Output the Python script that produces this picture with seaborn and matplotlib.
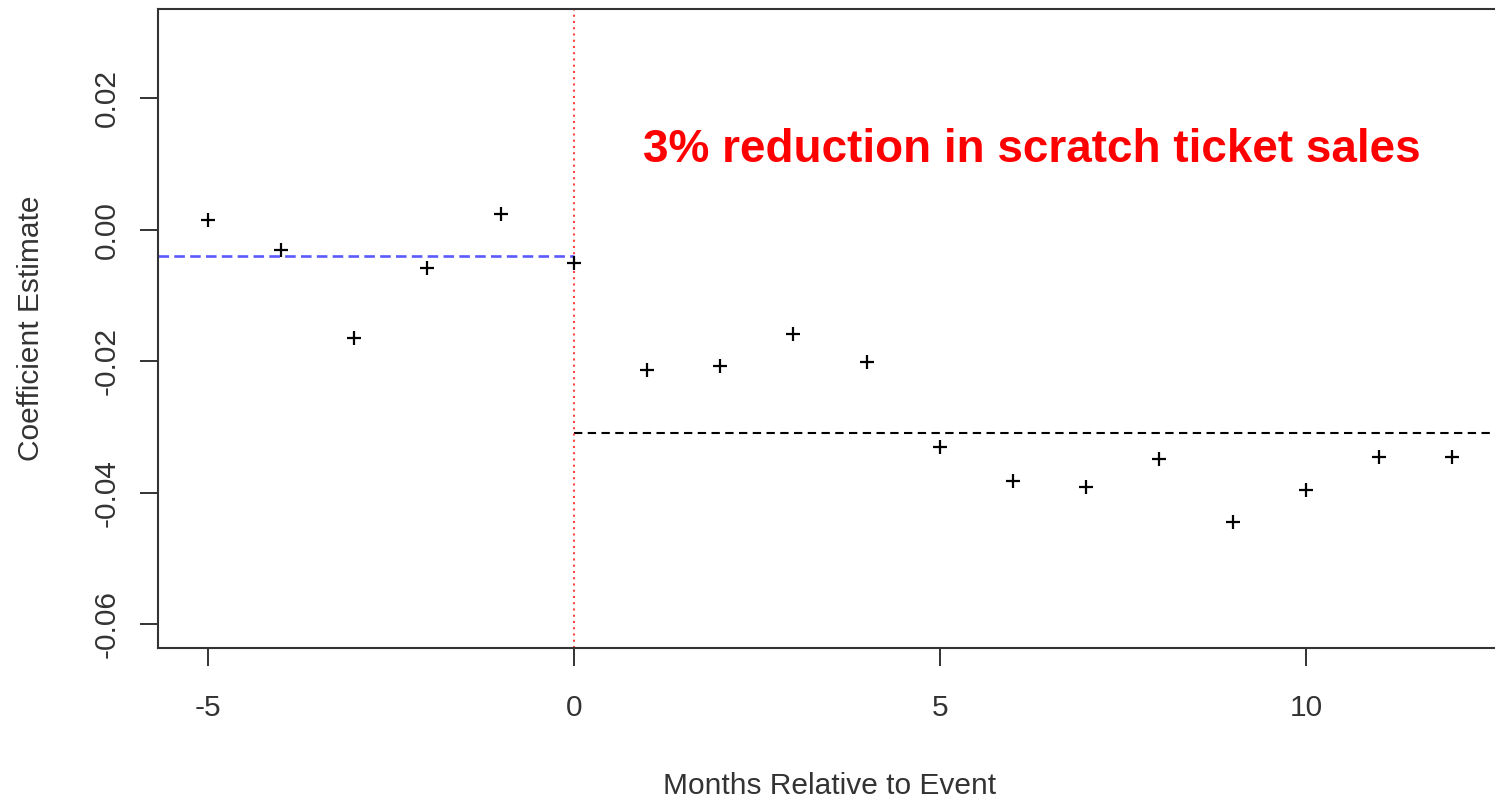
import numpy as np
import pandas as pd
import matplotlib
matplotlib.use("Agg")
import matplotlib.pyplot as plt
import seaborn as sns

# Data
months = [-5, -4, -3, -2, -1, 0, 1, 2, 3, 4, 5, 6, 7, 8, 9, 10, 11, 12]
coef = [0.0015, -0.0030, -0.0164, -0.0058, 0.0024, -0.0050,
        -0.0213, -0.0207, -0.0158, -0.0201, -0.0330, -0.0382,
        -0.0391, -0.0348, -0.0444, -0.0395, -0.0345, -0.0345]
pre_mean = -0.0040
post_mean = -0.0309
x_ticks = [-5, 0, 5, 10]
y_ticks = [-0.06, -0.04, -0.02, 0.00, 0.02]
y_tick_labels = ["-0.06", "-0.04", "-0.02", "0.00", "0.02"]

df = pd.DataFrame({"month": months, "coef": coef})

sns.set_style("white")
plt.rcParams['font.family'] = ['Liberation Sans', 'DejaVu Sans']

fig = plt.figure(figsize=(14.95, 7.97), dpi=100)
ax = fig.add_axes([158 / 1495, 149 / 797, (1502 - 158) / 1495, (648 - 9) / 797])

sns.scatterplot(data=df, x="month", y="coef", marker="+", s=110,
                color="black", linewidth=1.6, ax=ax, zorder=3)

xmin, xmax = -5.68, 12.68
ax.set_xlim(xmin, xmax)
ax.set_ylim(-0.0636, 0.0336)

# Pre-period mean (blue) and post-period mean (black)
ax.hlines(pre_mean, xmin, 0, colors="#5a5aff", linestyles=(0, (4, 2)), linewidth=1.9)
ax.hlines(post_mean, 0, xmax, colors="black", linestyles=(0, (4, 2.6)), linewidth=1.5)
ax.axvline(0, color="#ff4444", linestyle=(0, (1, 2)), linewidth=1.5)

ax.set_xticks(x_ticks)
ax.set_xticklabels([str(v) for v in x_ticks])
ax.set_yticks(y_ticks)
ax.set_yticklabels(y_tick_labels, rotation=90, va="center")

ax.tick_params(axis="both", direction="out", length=13, width=1.4, color="#333333",
               labelsize=21.5, labelcolor="#333333", pad=16, bottom=True, left=True)
ax.tick_params(axis="x", pad=20)
ax.tick_params(axis="y", pad=14)

for side in ["left", "bottom", "top", "right"]:
    ax.spines[side].set_color("#333333")
    ax.spines[side].set_linewidth(1.5)

ax.set_xlabel("Months Relative to Event", fontsize=21.5, color="#333333", labelpad=36)
ax.set_ylabel("Coefficient Estimate", fontsize=21.5, color="#333333", labelpad=34)

ax.text(643 / 1495, (797 - 162) / 797, "3% reduction in scratch ticket sales",
        transform=fig.transFigure, color="red", fontsize=33, fontweight="bold",
        ha="left", va="baseline")

fig.savefig("out.png", dpi=100)
